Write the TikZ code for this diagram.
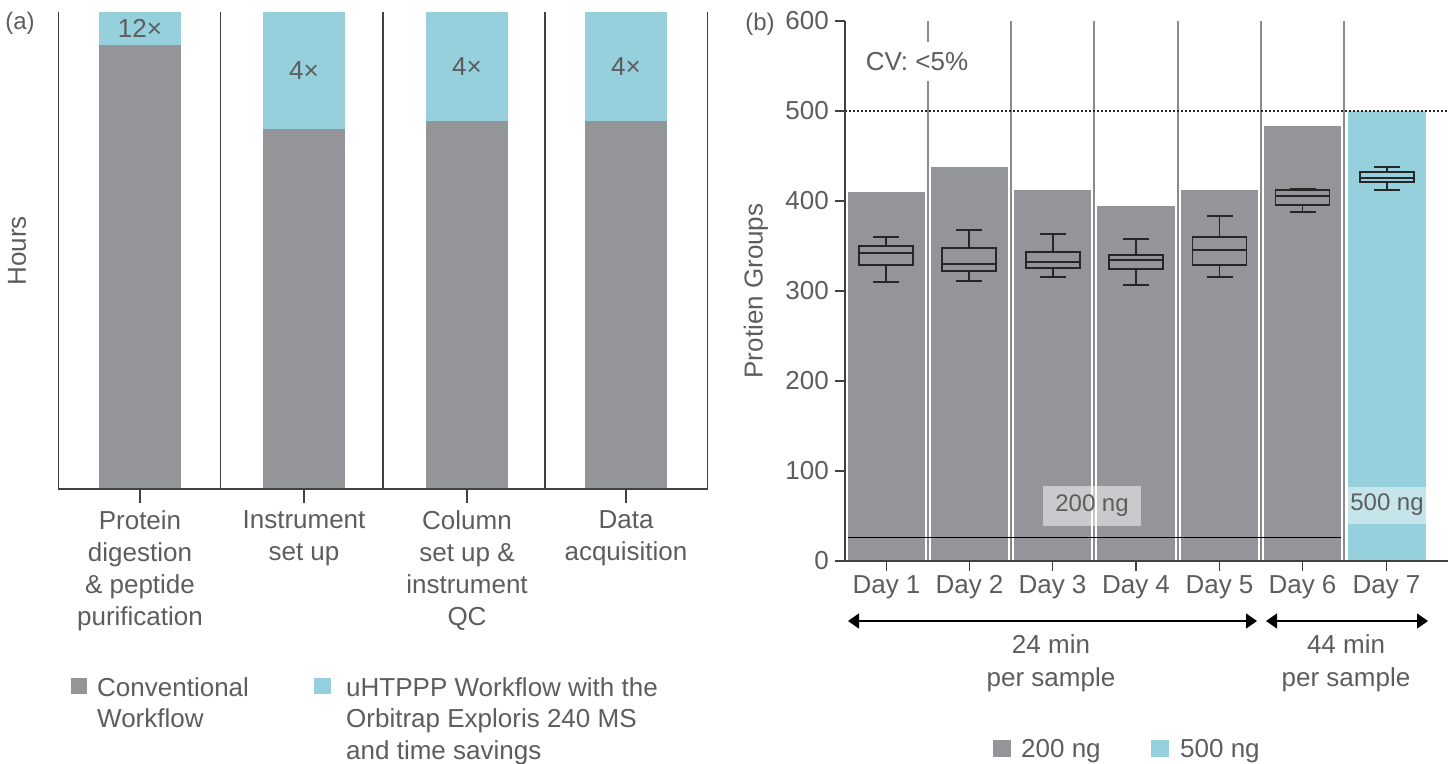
\documentclass[tikz,border=0pt]{standalone}
\usepackage{fontspec}
\setmainfont{Liberation Sans}
\usetikzlibrary{arrows.meta}
\definecolor{bargray}{RGB}{148,149,153}
\definecolor{barcyan}{RGB}{150,208,220}
\definecolor{txtgray}{RGB}{92,93,95}
\definecolor{gridgray}{RGB}{140,140,140}
\definecolor{framegray}{RGB}{65,65,65}
\newcommand\bxplot[6]{%
  \draw[boxp] ({#1-27},#2) rectangle ({#1+27},#3);
  \draw[boxp] ({#1-27},#4) -- ({#1+27},#4);
  \draw[boxp] (#1,#2) -- (#1,#5) ({#1-13},#5) -- ({#1+13},#5);
  \draw[boxp] (#1,#3) -- (#1,#6) ({#1-13},#6) -- ({#1+13},#6);
}
\begin{document}
\begin{tikzpicture}[x=1pt,y=-1pt,
  font=\fontsize{26}{32}\selectfont,
  every node/.style={text=txtgray, inner sep=0pt},
  lbl/.style={align=center},
  frame/.style={draw=framegray, line width=1.3pt},
  axisl/.style={draw=framegray, line width=1.3pt},
  gridl/.style={draw=gridgray, line width=1.4pt},
  boxp/.style={draw=black!85, line width=1.1pt},
  arr/.style={{Triangle[length=11pt,width=15pt]}-{Triangle[length=11pt,width=15pt]}, line width=1.2pt, black},
  small/.style={font=\fontsize{24}{28}\selectfont},
  ngfont/.style={font=\fontsize{24}{28}\selectfont}]
\useasboundingbox (0,0) rectangle (1455,763);

% ================= Panel (a) =================
\fill[barcyan] (99,12) rectangle (181,45);
\fill[bargray] (99,45) rectangle (181,489);
\fill[barcyan] (263,12) rectangle (345,129);
\fill[bargray] (263,129) rectangle (345,489);
\fill[barcyan] (426,12) rectangle (508,121);
\fill[bargray] (426,121) rectangle (508,489);
\fill[barcyan] (585,12) rectangle (667,121);
\fill[bargray] (585,121) rectangle (667,489);

\draw[frame] (58.5,12) -- (58.5,489) -- (707.5,489) -- (707.5,12);
\foreach \x in {220.5,383,545} \draw[frame] (\x,12) -- (\x,489);
\foreach \x in {140,304,467,626} \draw[frame] (\x,489) -- (\x,503);

\node (fa1) at (140,28.5) {12×};
\node (fa2) at (304,70.5) {4×};
\node (fa3) at (467,66.5) {4×};
\node (fa4) at (626,66.5) {4×};

\node[lbl, anchor=north] (ca1) at (140,510) {Protein\\digestion\\\& peptide\\purification};
\node[lbl, anchor=north] (ca2) at (304,510) {Instrument\\set up};
\node[lbl, anchor=north] (ca3) at (467,510) {Column\\set up \&\\instrument\\QC};
\node[lbl, anchor=north] (ca4) at (626,510) {Data\\acquisition};

\node[small] (pa) at (20,23) {(a)};
\node[rotate=90] (hours) at (17,251) {Hours};

\fill[bargray] (71,678) rectangle (87,694);
\node[align=left, anchor=north west, font=\fontsize{26}{31.5}\selectfont] (lega1) at (97,677) {Conventional\\Workflow};
\fill[barcyan] (314,678) rectangle (331,694);
\node[align=left, anchor=north west, font=\fontsize{26}{31.5}\selectfont] (lega2) at (346,677) {uHTPPP Workflow with the\\Orbitrap Exploris 240 MS\\and time savings};

% ================= Panel (b) =================
\fill[bargray] (848,192) rectangle (925,561);
\fill[bargray] (931,167) rectangle (1008,561);
\fill[bargray] (1014,190) rectangle (1091,561);
\fill[bargray] (1097,206) rectangle (1175,561);
\fill[bargray] (1181,190) rectangle (1258,561);
\fill[bargray] (1264,126) rectangle (1341,561);
\fill[barcyan] (1348,111) rectangle (1426,561);

\foreach \x in {928,1011,1094,1178,1261,1344} \draw[gridl] (\x,21) -- (\x,561);
\draw[black!85, line width=1.2pt, dash pattern=on 2pt off 2pt] (845,111) -- (1448,111);

\node[fill=white, minimum height=39pt, inner xsep=3pt] (cv) at (917,61.5) {CV: <5\%};

\draw[black, line width=1pt] (848,537) -- (1341,537);

\bxplot{886}{246}{265}{253}{237}{282}
\bxplot{969}{248}{271}{264}{230}{281}
\bxplot{1053}{252}{268}{262}{234}{277}
\bxplot{1136}{255}{269}{260}{239}{285}
\bxplot{1219.5}{237}{265}{250}{216}{277}
\bxplot{1302.5}{190}{205}{196}{189}{212}
\bxplot{1387}{172}{182}{178}{167}{190}

\node[ngfont, fill=white, fill opacity=0.5, text opacity=1, minimum width=98pt, minimum height=40pt] (ng200) at (1092,506) {200 ng};
\node[ngfont, fill=white, fill opacity=0.45, text opacity=1, minimum width=78pt, minimum height=37pt] (ng500) at (1387,505) {500 ng};

\draw[axisl] (845,21) -- (845,561) -- (1448,561);
\foreach \y/\v in {561/0,471/100,381/200,291/300,201/400,111/500,21/600} {
  \draw[axisl] (835,\y) -- (845,\y);
  \node[anchor=east] (yl\v) at (829,\y) {\v};
}
\foreach \x/\d in {886.5/1,969.5/2,1052.5/3,1136/4,1219.5/5,1302.5/6,1386.5/7} {
  \draw[axisl] (\x,561) -- (\x,571);
  \node[anchor=base] (day\d) at (\x,593) {Day \d};
}

\node[small] (pb) at (760,24) {(b)};
\node[rotate=90] (ylab) at (756,291) {Protien Groups};

\coordinate (al) at (848,621);
\coordinate (ar) at (1257,621);
\coordinate (bl) at (1266,621);
\coordinate (br) at (1428,621);
\draw[arr] (al) -- (ar);
\draw[arr] (bl) -- (br);
\node[lbl, anchor=north, font=\fontsize{26}{33}\selectfont] (t24) at (1051,634) {24 min\\per sample};
\node[lbl, anchor=north, font=\fontsize{26}{33}\selectfont] (t44) at (1346,634) {44 min\\per sample};

\fill[bargray] (993,740) rectangle (1011,757);
\node[anchor=base west] (legb1) at (1021,757) {200 ng};
\fill[barcyan] (1151,740) rectangle (1169,757);
\node[anchor=base west] (legb2) at (1180,757) {500 ng};
\end{tikzpicture}
\end{document}
